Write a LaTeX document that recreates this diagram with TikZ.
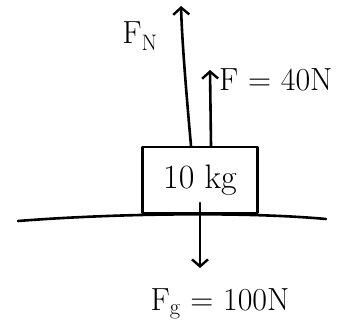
\documentclass[tikz,border=0pt]{standalone}
\usetikzlibrary{arrows.meta}
\begin{document}
\begin{tikzpicture}[x=1pt,y=-1pt,
  ink/.style={line width=2.6pt,line cap=round,line join=round},
  force/.style={ink,-{Straight Barb[length=7pt,width=16pt,line width=2.4pt]}},
  lbl/.style={font=\fontsize{32}{34}\selectfont,inner sep=0pt}]
\useasboundingbox (0,0) rectangle (344,326);
\draw[ink] (18,221) .. controls (120,213) and (250,212) .. (326,219);
\node[ink,draw,minimum width=115pt,minimum height=66pt,inner sep=0pt,font=\fontsize{34}{36}\selectfont] (box) at (200,180) {10 kg};
\coordinate (fntop) at (181,6);
\coordinate (ftop) at (210,70);
\coordinate (fgbot) at (200,268);
\draw[force] (box.north -| 191,0) .. controls (186,90) and (182,40) .. (fntop);
\draw[force] (box.north -| 211,0) -- (ftop);
\draw[force] (200,203) -- (fgbot);
\node[lbl] (fn) at (140,36) {F\textsubscript{N}};
\node[lbl,anchor=west] (f) at (219,80) {F = 40N};
\node[lbl] (fg) at (220,304) {F\textsubscript{g} = 100N};
\end{tikzpicture}
\end{document}
